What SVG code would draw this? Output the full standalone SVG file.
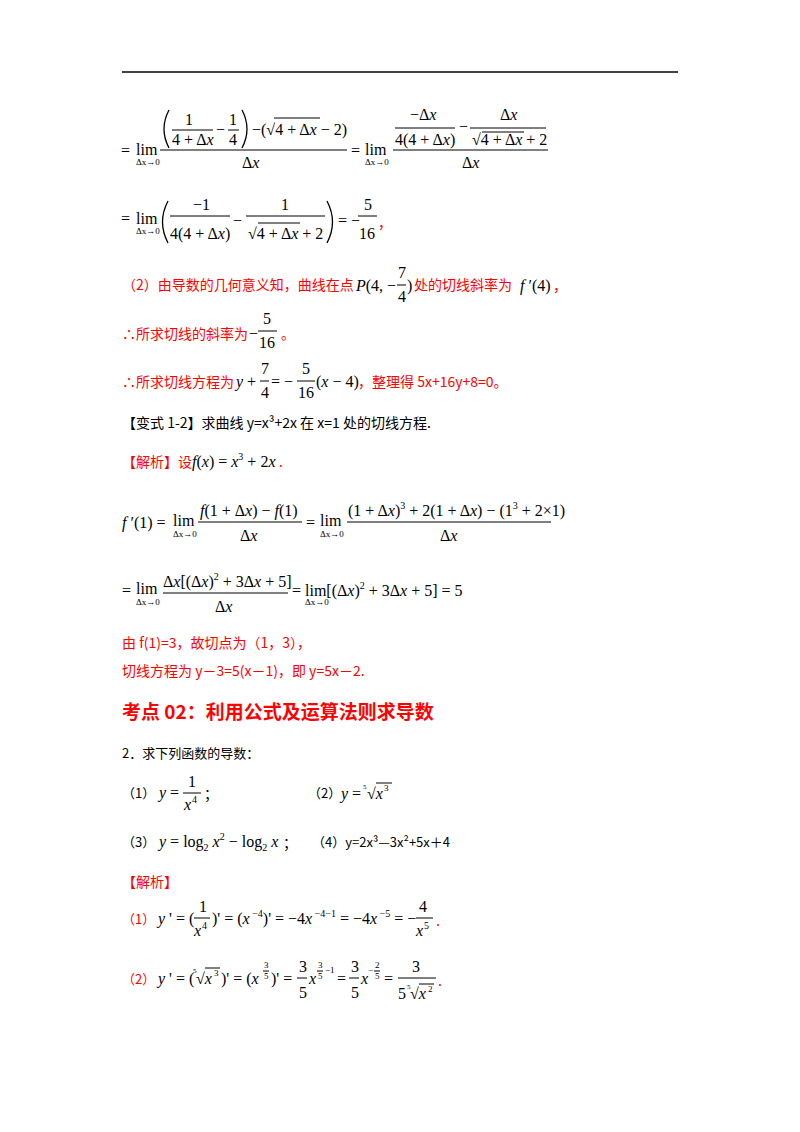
<svg xmlns="http://www.w3.org/2000/svg" width="800" height="1132" viewBox="0 0 800 1132">
<style>
text{font-family:"Liberation Serif","Noto Sans CJK SC",serif;font-size:16px;fill:#000}
.i{font-style:italic}
.s{font-size:9px}
.t{font-size:7px}
.e{font-size:10px}
.r{fill:#f00}
.c{font-family:"Noto Sans CJK SC",sans-serif;font-size:14px}
.h{font-family:"Noto Sans CJK SC",sans-serif;font-size:19px;font-weight:bold;fill:#f00}
.b{stroke:#000;stroke-width:1;fill:none}
.p{stroke:#000;stroke-width:1.3;fill:none}
</style>
<rect width="800" height="1132" fill="#fff"/>
<line x1="122" y1="72" x2="678" y2="72" stroke="#000" stroke-width="1.5"/>
<g id="line1">
<text x="121" y="156">=</text><text x="136" y="155">lim</text><text x="136" y="165" class="s">Δx→0</text>
<path class="p" d="M169,110 Q159,129 169,148"/>
<text x="185" y="125">1</text><line class="b" x1="172" y1="130" x2="213" y2="130"/><text x="172" y="145">4 + Δ<tspan class="i">x</tspan></text>
<text x="216" y="135">−</text><text x="229" y="125">1</text><line class="b" x1="228" y1="130" x2="239" y2="130"/><text x="229" y="145">4</text>
<path class="p" d="M242,110 Q252,129 242,148"/>
<text x="252" y="135">−(√4 + Δ<tspan class="i">x</tspan> − 2)</text><line class="b" x1="274" y1="118" x2="320" y2="118"/>
<line class="b" x1="160" y1="150" x2="347" y2="150"/><text x="242" y="168">Δ<tspan class="i">x</tspan></text>
<text x="351" y="156">=</text><text x="365" y="155">lim</text><text x="365" y="165" class="s">Δx→0</text>
<text x="410" y="120">−Δ<tspan class="i">x</tspan></text><line class="b" x1="395" y1="128" x2="455" y2="128"/><text x="395" y="145">4(4 + Δ<tspan class="i">x</tspan>)</text>
<text x="459" y="132">−</text>
<text x="500" y="120">Δ<tspan class="i">x</tspan></text><line class="b" x1="470" y1="128" x2="546" y2="128"/><text x="472" y="145">√4 + Δ<tspan class="i">x</tspan> + 2</text><line class="b" x1="482" y1="132" x2="524" y2="132"/>
<line class="b" x1="393" y1="150" x2="548" y2="150"/><text x="462" y="168">Δ<tspan class="i">x</tspan></text>
</g>
<g id="line2">
<text x="121" y="224">=</text><text x="136" y="224">lim</text><text x="136" y="234" class="s">Δx→0</text>
<path class="p" d="M168,201 Q157,222 168,243"/>
<text x="193" y="210">−1</text><line class="b" x1="170" y1="216" x2="230" y2="216"/><text x="170" y="239">4(4 + Δ<tspan class="i">x</tspan>)</text>
<text x="233" y="226">−</text>
<text x="281" y="210">1</text><line class="b" x1="246" y1="216" x2="325" y2="216"/><text x="248" y="239">√4 + Δ<tspan class="i">x</tspan> + 2</text><line class="b" x1="258" y1="223" x2="300" y2="223"/>
<path class="p" d="M327,201 Q338,222 327,243"/>
<text x="338" y="226">= −</text>
<text x="364" y="210">5</text><line class="b" x1="358" y1="216" x2="377" y2="216"/><text x="359" y="239">16</text>
<text x="378" y="228" class="r c">，</text>
</g>
<g id="line3">
<text x="122" y="290" class="r c">（2）由导数的几何意义知，曲线在点</text>
<text x="356" y="291"><tspan class="i">P</tspan>(4, −</text>
<text x="398" y="278">7</text><line class="b" x1="397" y1="285" x2="406" y2="285"/><text x="398" y="302">4</text>
<text x="407" y="291">)</text>
<text x="414" y="290" class="r c">处的切线斜率为</text>
<text x="520" y="291"><tspan class="i">f</tspan> ′(4)</text><text x="553" y="291" class="r c">，</text>
</g>
<g id="line4">
<text x="122" y="339" class="r c">∴所求切线的斜率为</text>
<text x="249" y="339">−</text>
<text x="263" y="324">5</text><line class="b" x1="258" y1="331" x2="277" y2="331"/><text x="259" y="348">16</text>
<text x="281" y="339" class="r c">。</text>
</g>
<g id="line5">
<text x="122" y="387" class="r c">∴所求切线方程为</text>
<text x="236" y="387"><tspan class="i">y</tspan> +</text>
<text x="261" y="374">7</text><line class="b" x1="260" y1="381" x2="269" y2="381"/><text x="261" y="398">4</text>
<text x="271" y="387">= −</text>
<text x="302" y="374">5</text><line class="b" x1="297" y1="381" x2="315" y2="381"/><text x="298" y="398">16</text>
<text x="316" y="387">(<tspan class="i">x</tspan> − 4)</text>
<text x="358" y="387" class="r c">，整理得 5x+16y+8=0。</text>
</g>
<text x="122" y="428" class="c">【变式 1-2】求曲线 y=x³+2x 在 x=1 处的切线方程.</text>
<g id="line7">
<text x="122" y="467" class="r c">【解析】设</text>
<text x="192" y="467"><tspan class="i">f</tspan>(<tspan class="i">x</tspan>) = <tspan class="i">x</tspan><tspan class="e" dy="-7">3</tspan><tspan dy="7"> + 2</tspan><tspan class="i">x</tspan></text>
<text x="279" y="467" class="r c">.</text>
</g>
<g id="line8">
<text x="122" y="528"><tspan class="i">f</tspan> ′(1) =</text><text x="173" y="526">lim</text><text x="173" y="537" class="s">Δx→0</text>
<text x="200" y="516"><tspan class="i">f</tspan>(1 + Δ<tspan class="i">x</tspan>) − <tspan class="i">f</tspan>(1)</text>
<line class="b" x1="198" y1="522" x2="302" y2="522"/><text x="240" y="541">Δ<tspan class="i">x</tspan></text>
<text x="306" y="528">=</text><text x="320" y="526">lim</text><text x="320" y="537" class="s">Δx→0</text>
<text x="348" y="516">(1 + Δ<tspan class="i">x</tspan>)<tspan class="e" dy="-7">3</tspan><tspan dy="7"> + 2(1 + Δ</tspan><tspan class="i">x</tspan>) − (1<tspan class="e" dy="-7">3</tspan><tspan dy="7"> + 2×1)</tspan></text>
<line class="b" x1="347" y1="522" x2="551" y2="522"/><text x="440" y="541">Δ<tspan class="i">x</tspan></text>
</g>
<g id="line9">
<text x="122" y="596">=</text><text x="136" y="594">lim</text><text x="136" y="605" class="s">Δx→0</text>
<text x="163" y="587">Δ<tspan class="i">x</tspan>[(Δ<tspan class="i">x</tspan>)<tspan class="e" dy="-7">2</tspan><tspan dy="7"> + 3Δ</tspan><tspan class="i">x</tspan> + 5]</text>
<line class="b" x1="163" y1="593" x2="288" y2="593"/><text x="215" y="612">Δ<tspan class="i">x</tspan></text>
<text x="292" y="596">= lim[(Δ<tspan class="i">x</tspan>)<tspan class="e" dy="-7">2</tspan><tspan dy="7"> + 3Δ</tspan><tspan class="i">x</tspan> + 5] = 5</text>
<text x="305" y="605" class="s">Δx→0</text>
</g>
<text x="122" y="648" class="r c">由 f(1)=3，故切点为（1，3），</text>
<text x="122" y="676" class="r c">切线方程为 y－3=5(x－1)，即 y=5x－2.</text>
<text x="122" y="719" class="h">考点 02：利用公式及运算法则求导数</text>
<text x="122" y="758" class="c" style="font-size:13px">2．求下列函数的导数：</text>
<g id="q1">
<text x="122" y="798" class="c" style="font-size:13px">（1）</text>
<text x="159" y="798"><tspan class="i">y</tspan> =</text>
<text x="188" y="787">1</text><line class="b" x1="183" y1="793" x2="201" y2="793"/><text x="184" y="810" class="i">x</text><text x="192" y="803" class="e">4</text>
<text x="204" y="799" class="c">；</text>
</g>
<g id="q2">
<text x="308" y="798" class="c" style="font-size:13px">（2）</text>
<text x="341" y="799"><tspan class="i">y</tspan> =</text><text x="367" y="799">√<tspan class="i">x</tspan></text><text x="363" y="789" class="t">5</text><text x="384" y="791" class="s">3</text><line class="b" x1="376" y1="783" x2="392" y2="783"/>
</g>
<g id="q3">
<text x="122" y="847" class="c" style="font-size:13px">（3）</text>
<text x="159" y="847"><tspan class="i">y</tspan> = log<tspan class="e" dy="4">2</tspan><tspan class="i" dy="-4"> x</tspan><tspan class="e" dy="-7">2</tspan><tspan dy="7"> − log</tspan><tspan class="e" dy="4">2</tspan><tspan class="i" dy="-4"> x</tspan></text>
<text x="283" y="848" class="c">；</text>
<text x="312" y="847" class="c" style="font-size:13px">（4）y=2x³—3x²+5x＋4</text>
</g>
<text x="122" y="887" class="r c">【解析】</text>
<g id="a1">
<text x="122" y="924" class="r c" style="font-size:13px">（1）</text>
<text x="158" y="924"><tspan class="i">y</tspan> ' = (</text>
<text x="199" y="912">1</text><line class="b" x1="194" y1="918" x2="210" y2="918"/><text x="194" y="936" class="i">x</text><text x="202" y="929" class="e">4</text>
<text x="212" y="924">)' = (<tspan class="i">x</tspan><tspan class="e" dy="-7"> −4</tspan><tspan dy="7">)' = −4</tspan><tspan class="i">x</tspan><tspan class="e" dy="-7"> −4−1</tspan><tspan dy="7"> = −4</tspan><tspan class="i">x</tspan><tspan class="e" dy="-7"> −5</tspan><tspan dy="7"> = −</tspan></text>
<text x="419" y="912">4</text><line class="b" x1="416" y1="918" x2="433" y2="918"/><text x="416" y="936" class="i">x</text><text x="424" y="929" class="e">5</text>
<text x="436" y="926" class="r">.</text>
</g>
<g id="a2">
<text x="122" y="984" class="r c" style="font-size:13px">（2）</text>
<text x="158" y="984"><tspan class="i">y</tspan> ' = (</text><text x="196" y="984">√<tspan class="i">x</tspan></text><text x="193" y="973" class="t">5</text><text x="214" y="976" class="s">3</text><line class="b" x1="205" y1="968" x2="220" y2="968"/>
<text x="221" y="984">)' = (<tspan class="i">x</tspan></text><text x="264" y="968" class="s">3</text><line class="b" x1="263" y1="971" x2="269" y2="971"/><text x="264" y="979" class="s">5</text>
<text x="271" y="984">)' =</text>
<text x="299" y="972">3</text><line class="b" x1="297" y1="978" x2="307" y2="978"/><text x="299" y="998">5</text>
<text x="309" y="984" class="i">x</text>
<text x="318" y="968" class="s">3</text><line class="b" x1="317" y1="971" x2="323" y2="971"/><text x="318" y="979" class="s">5</text><text x="325" y="973" class="s">−1</text>
<text x="337" y="984">=</text>
<text x="351" y="972">3</text><line class="b" x1="349" y1="978" x2="359" y2="978"/><text x="351" y="998">5</text>
<text x="361" y="984" class="i">x</text><text x="368" y="973" class="s">−</text>
<text x="375" y="968" class="s">2</text><line class="b" x1="374" y1="971" x2="380" y2="971"/><text x="375" y="979" class="s">5</text>
<text x="384" y="984">=</text>
<text x="412" y="972">3</text><line class="b" x1="398" y1="978" x2="436" y2="978"/>
<text x="398" y="999">5</text><text x="410" y="999">√<tspan class="i">x</tspan></text><text x="407" y="989" class="t">5</text><text x="428" y="992" class="s">2</text><line class="b" x1="419" y1="984" x2="434" y2="984"/>
<text x="438" y="986" class="r">.</text>
</g>
</svg>
